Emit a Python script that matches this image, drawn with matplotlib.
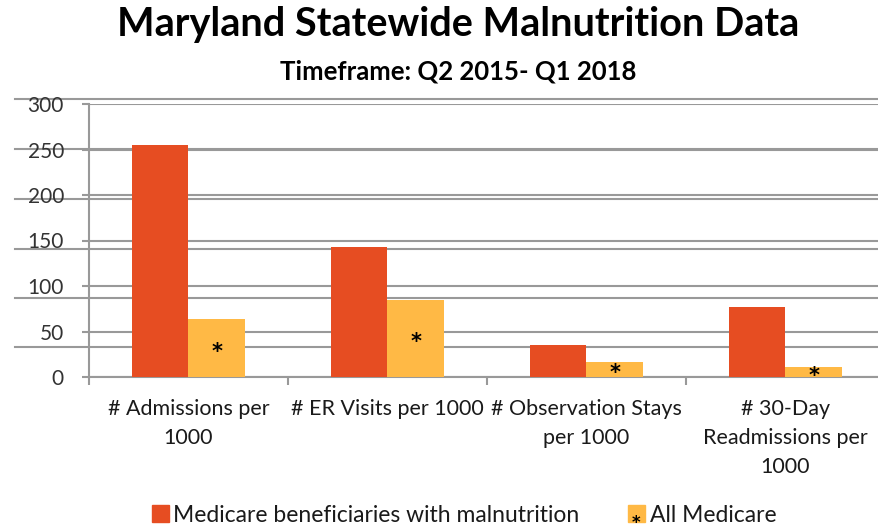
import matplotlib.pyplot as plt
import numpy as np
from matplotlib.patches import Rectangle
from matplotlib.transforms import blended_transform_factory, offset_copy

plt.rcParams['font.family'] = ['Lato', 'DejaVu Sans']

categories = ["# Admissions per\n1000", "# ER Visits per 1000",
              "# Observation Stays\nper 1000", "# 30-Day\nReadmissions per\n1000"]
malnutrition = [255, 143, 35, 77]
all_medicare = [64, 85, 17, 11]
series_names = ["Medicare beneficiaries with malnutrition", "All Medicare"]
# the source picture has a second, slightly misaligned set of gridlines
overlay_grid = [305, 251, 196, 141, 87, 33]

RED = "#E64D22"
YELLOW = "#FFB945"
GRID = "#999999"

fig = plt.figure(figsize=(8.79, 5.31), dpi=100)
ax = fig.add_axes([89 / 879, 154 / 531, 796 / 879, 273 / 531])

x = np.arange(len(categories))
w = 0.285
ax.bar(x - w / 2, malnutrition, w, color=RED, zorder=3)
ax.bar(x + w / 2, all_medicare, w, color=YELLOW, zorder=3)
star_trans = offset_copy(ax.transData, fig=fig, x=0, y=-3, units="points")
for xi, v in zip(x, all_medicare):
    ax.text(xi + w / 2, v / 2, "*", ha="center", va="center", fontsize=15,
            fontweight="bold", family="DejaVu Sans", color="black",
            transform=star_trans, zorder=4)

ax.set_xlim(-0.5, len(categories) - 0.5)
ax.set_ylim(0, 300)
ax.set_yticks(range(0, 301, 50))
ax.yaxis.grid(True, color=GRID, linewidth=1.5, zorder=0)
ax.set_axisbelow(True)

# overlay gridlines running from the far left across the plot
trans = blended_transform_factory(fig.transFigure, ax.transData)
for yv in overlay_grid:
    ax.plot([15 / 879, 1.0], [yv, yv], transform=trans, color=GRID,
            linewidth=1.5, clip_on=False, zorder=0)

ax.set_xticks(np.arange(-0.5, len(categories), 1))
ax.set_xticklabels([])
ax.set_xticks(x, minor=True)
ax.set_xticklabels(categories, minor=True, fontsize=15.5, color="#1a1a1a",
                   linespacing=1.55)
ax.tick_params(axis="x", which="minor", length=0, pad=16)
ax.tick_params(axis="x", which="major", length=6, color=GRID, width=1.5)
ax.tick_params(axis="y", length=5, color=GRID, width=1.5, labelsize=15,
               labelcolor="#333333", pad=13)

for side in ["top", "right"]:
    ax.spines[side].set_visible(False)
for side in ["left", "bottom"]:
    ax.spines[side].set_color(GRID)
    ax.spines[side].set_linewidth(1.5)

fig.text(0.521, 0.953, "Maryland Statewide Malnutrition Data", ha="center",
         va="center", fontsize=28.5, fontweight="bold")
fig.text(0.521, 0.865, "Timeframe: Q2 2015- Q1 2018", ha="center",
         va="center", fontsize=18.5, fontweight="bold")

# legend
fig.patches.append(Rectangle((152 / 879, 9 / 531), 17 / 879, 17 / 531,
                             transform=fig.transFigure, color=RED))
fig.text(173 / 879, 16 / 531, series_names[0], va="center", fontsize=16.5,
         color="#1a1a1a")
fig.patches.append(Rectangle((628 / 879, 9 / 531), 17 / 879, 17 / 531,
                             transform=fig.transFigure, color=YELLOW))
fig.text(636.5 / 879, 8 / 531, "*", ha="center", va="center", fontsize=12,
         fontweight="bold", family="DejaVu Sans")
fig.text(650 / 879, 16 / 531, series_names[1], va="center", fontsize=16.5,
         color="#1a1a1a")

fig.savefig("out.png", dpi=100)
